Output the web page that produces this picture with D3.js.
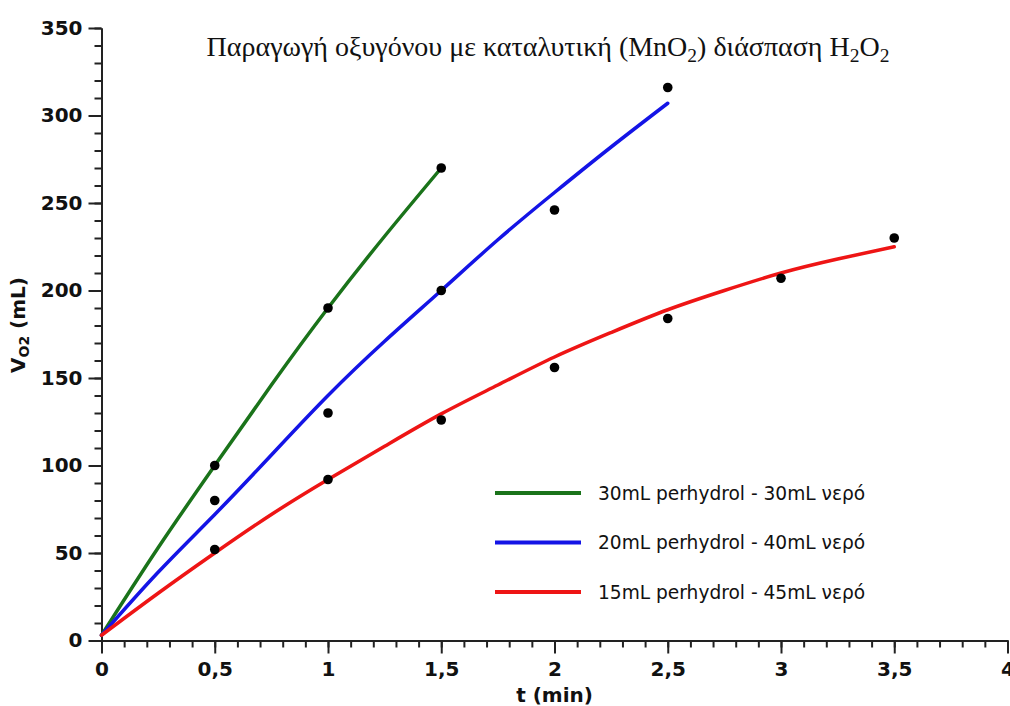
<!DOCTYPE html>
<html>
<head>
<meta charset="utf-8">
<script src="https://cdn.jsdelivr.net/npm/d3@7"></script>
<style>
body { margin: 0; background: #fff; }
svg { display: block; }
.tick text { font-family: "DejaVu Sans", sans-serif; font-weight: bold; font-size: 20px; fill: #111; }
.domain, .tick line { stroke: #222; stroke-width: 2; }
</style>
</head>
<body>
<svg id="chart"></svg>
<script>
// measured points (t in min, V in mL)
var greenT = [0.5, 1, 1.5];
var greenV = [100, 190, 270];
var blueT = [0.5, 1, 1.5, 2, 2.5];
var blueV = [80, 130, 200, 246, 316];
var redT = [0.5, 1, 1.5, 2, 2.5, 3, 3.5];
var redV = [52, 92, 126, 156, 184, 207, 230];

// fitted curves
var greenFitT = [0, 0.25, 0.5, 0.75, 1, 1.25, 1.5];
var greenFitV = [3, 53, 100, 146, 190, 231, 270];
var blueFitT = [0, 0.25, 0.5, 0.75, 1, 1.25, 1.5, 1.75, 2, 2.25, 2.5];
var blueFitV = [3, 39, 72, 106, 140, 171, 200, 229, 256, 282, 307];
var redFitT = [0, 0.25, 0.5, 0.75, 1, 1.25, 1.5, 1.75, 2, 2.25, 2.5, 2.75, 3, 3.25, 3.5];
var redFitV = [3, 27, 50, 72, 92, 111, 129.5, 146, 162, 176, 189, 200, 210, 218, 225];

var legendLabels = ["30mL perhydrol - 30mL νερό", "20mL perhydrol - 40mL νερό", "15mL perhydrol - 45mL νερό"];
var colors = ["#1a731a", "#1414e6", "#ee1515"];

var width = 1010, height = 706;
var svg = d3.select("#chart").attr("width", width).attr("height", height);

var x = d3.scaleLinear().domain([0, 4]).range([101.5, 1007.5]);
var y = d3.scaleLinear().domain([0, 350]).range([640.5, 28]);

// minor ticks first, then major axes on top
svg.append("g")
    .attr("transform", "translate(0," + y(0) + ")")
    .call(d3.axisBottom(x).tickValues(d3.range(0, 4.01, 0.1)).tickSize(7).tickSizeOuter(0).tickFormat(""));
svg.append("g")
    .attr("transform", "translate(" + x(0) + ",0)")
    .call(d3.axisLeft(y).tickValues(d3.range(0, 351, 10)).tickSize(7).tickSizeOuter(0).tickFormat(""));

svg.append("g")
    .attr("transform", "translate(0," + y(0) + ")")
    .call(d3.axisBottom(x).tickValues(d3.range(0, 4.01, 0.5)).tickSize(13).tickSizeOuter(0).tickPadding(8)
        .tickFormat(function(d) { return String(+d.toFixed(1)).replace(".", ","); }));

svg.append("g")
    .attr("transform", "translate(" + x(0) + ",0)")
    .call(d3.axisLeft(y).tickValues(d3.range(0, 351, 50)).tickSize(13).tickSizeOuter(0).tickPadding(6));

// fitted curves
var line = d3.line()
    .x(function(d) { return x(d[0]); })
    .y(function(d) { return y(d[1]); })
    .curve(d3.curveNatural);

var fits = [d3.zip(greenFitT, greenFitV), d3.zip(blueFitT, blueFitV), d3.zip(redFitT, redFitV)];
fits.forEach(function(f, i) {
    svg.append("path")
        .datum(f)
        .attr("d", line)
        .attr("fill", "none")
        .attr("stroke", colors[i])
        .attr("stroke-width", 3.5)
        .attr("stroke-linecap", "round");
});

// measured points
var pts = d3.zip(greenT, greenV).concat(d3.zip(blueT, blueV), d3.zip(redT, redV));
svg.selectAll("circle.pt")
    .data(pts)
    .enter().append("circle")
    .attr("class", "pt")
    .attr("cx", function(d) { return x(d[0]); })
    .attr("cy", function(d) { return y(d[1]); })
    .attr("r", 4.8)
    .attr("fill", "#000");

// title
var title = svg.append("text")
    .attr("x", 548).attr("y", 56)
    .attr("text-anchor", "middle")
    .style("font-family", "'Liberation Serif', 'Times New Roman', serif")
    .style("font-size", "28px")
    .attr("fill", "#111");
title.append("tspan").text("Παραγωγή οξυγόνου με καταλυτική (MnO");
title.append("tspan").attr("dy", 6).style("font-size", "19.5px").text("2");
title.append("tspan").attr("dy", -6).text(") διάσπαση H");
title.append("tspan").attr("dy", 6).style("font-size", "19.5px").text("2");
title.append("tspan").attr("dy", -6).text("O");
title.append("tspan").attr("dy", 6).style("font-size", "19.5px").text("2");

// axis labels
svg.append("text")
    .attr("x", x(2)).attr("y", 702)
    .attr("text-anchor", "middle")
    .style("font-family", "'DejaVu Sans', sans-serif")
    .style("font-weight", "bold")
    .style("font-size", "20px")
    .attr("fill", "#111")
    .text("t (min)");

var yl = svg.append("text")
    .attr("transform", "translate(25,325) rotate(-90)")
    .attr("text-anchor", "middle")
    .style("font-family", "'DejaVu Sans', sans-serif")
    .style("font-weight", "bold")
    .style("font-size", "20px")
    .attr("fill", "#111");
yl.append("tspan").text("V");
yl.append("tspan").attr("dy", 4).style("font-size", "14px").text("O2");
yl.append("tspan").attr("dy", -4).text(" (mL)");

// legend
var lg = svg.append("g");
legendLabels.forEach(function(lab, i) {
    var yy = 493 + i * 49.5;
    lg.append("line")
        .attr("x1", 495).attr("x2", 581)
        .attr("y1", yy).attr("y2", yy)
        .attr("stroke", colors[i])
        .attr("stroke-width", 4);
    lg.append("text")
        .attr("x", 598).attr("y", yy)
        .attr("dy", "0.35em")
        .style("font-family", "'DejaVu Sans', sans-serif")
        .style("font-size", "18.6px")
        .attr("fill", "#111")
        .text(lab);
});
</script>
</body>
</html>
